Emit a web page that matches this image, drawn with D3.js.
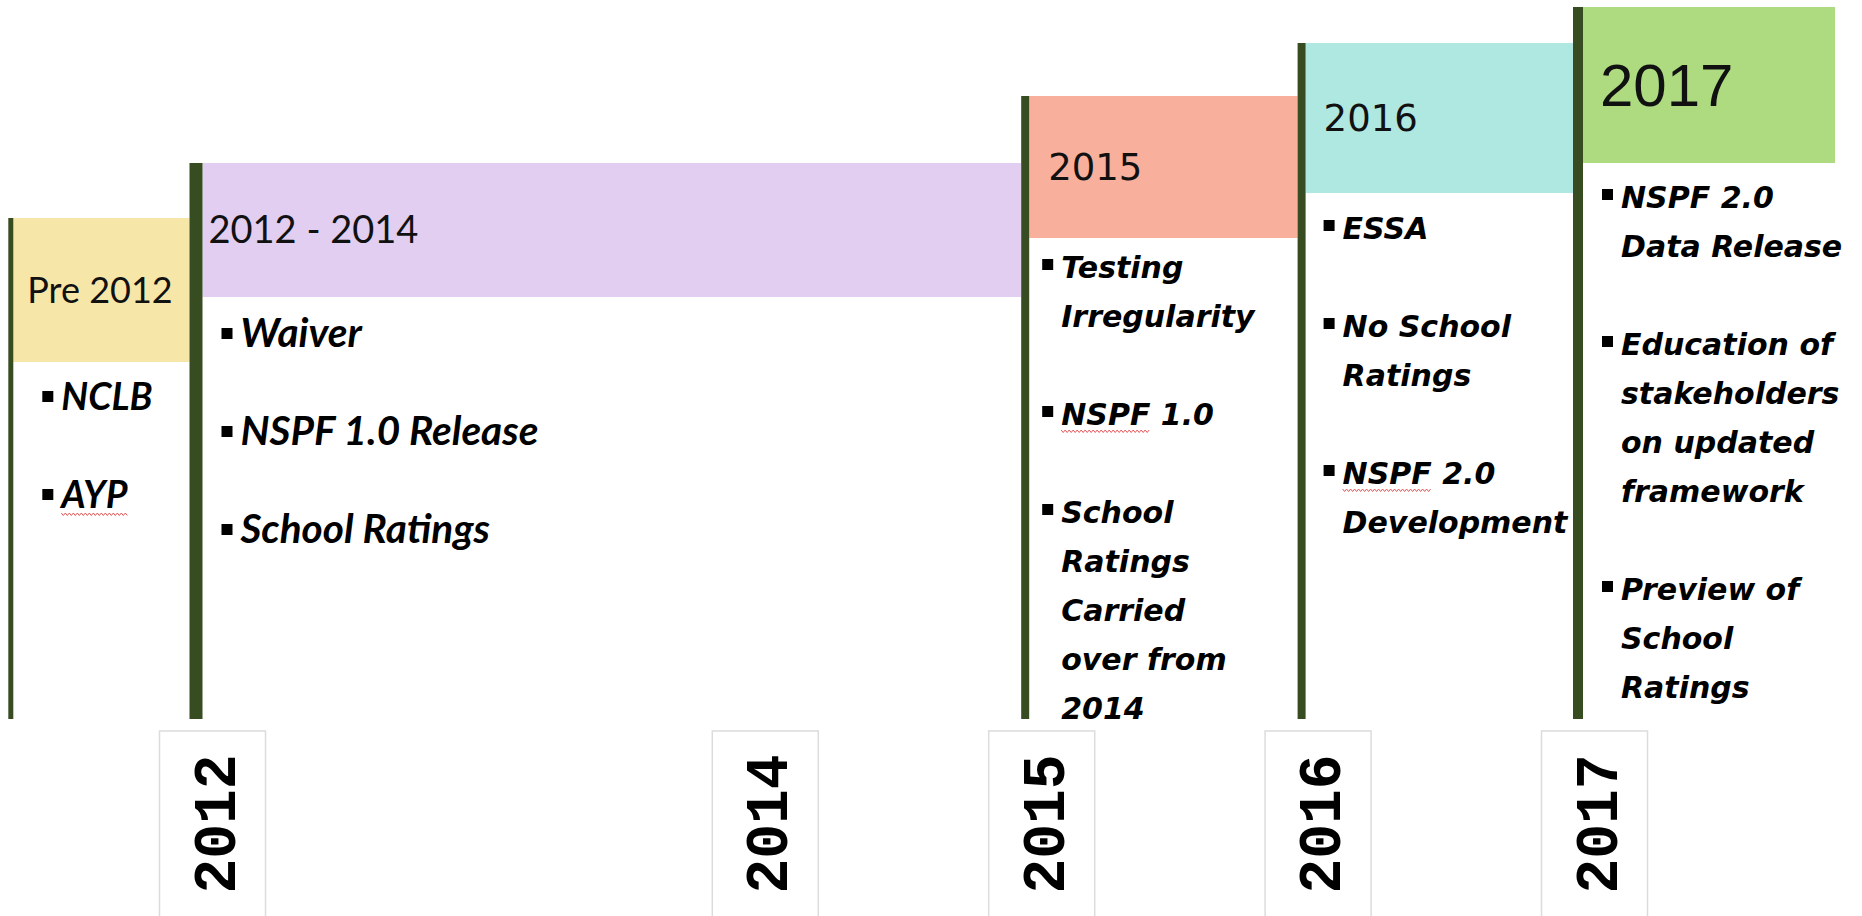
<!DOCTYPE html>
<html>
<head>
<meta charset="utf-8">
<script src="https://cdn.jsdelivr.net/npm/d3@7"></script>
<style>
  body { margin: 0; background: #fff; }
  svg { display: block; }
</style>
</head>
<body>
<div id="chart"></div>
<script>
// periods on the timeline
const periodLabels = ["Pre 2012", "2012 - 2014", "2015", "2016", "2017"];
const periodStart = [2011.33, 2012, 2015, 2016, 2017];
const periodEnd = [2012, 2015, 2016, 2017, 2017.93];

// bullet points of each period ("\n" = line break)
const periodItems = [
  ["NCLB", "AYP"],
  ["Waiver", "NSPF 1.0 Release", "School Ratings"],
  ["Testing\nIrregularity", "NSPF 1.0", "School\nRatings\nCarried\nover from\n2014"],
  ["ESSA", "No School\nRatings", "NSPF 2.0\nDevelopment"],
  ["NSPF 2.0\nData Release", "Education of\nstakeholders\non updated\nframework", "Preview of\nSchool\nRatings"]
];

// words underlined by the spell checker: [period, item]
const squiggles = [[0, 1], [2, 1], [3, 2]];

// year ticks under the timeline
const tickYears = [2012, 2014, 2015, 2016, 2017];

// layout / styling per period
const colors = ["#f6e6a8", "#e2cef0", "#f8af9c", "#afe8e0", "#aedb7f"];
const boxTop = [218, 163, 96, 43, 7];
const boxBottom = [362, 297, 238, 193, 163];
const lineWidth = [5, 13, 8, 8, 10];
const firstLine = [48, 50, 40, 46, 45];
const bulletPad = [29, 19, 13, 18, 19];
const titlePad = [14, 6, 19, 18, 17];
const titleFont = [
  {family: "Lato", size: 36},
  {family: "Lato", size: 38},
  {family: "DejaVu Sans", size: 37},
  {family: "DejaVu Sans", size: 37},
  {family: "Liberation Sans", size: 60}
];
const itemFont = [
  {family: "Lato", size: 37.5},
  {family: "Lato", size: 40.5},
  {family: "DejaVu Sans", size: 30},
  {family: "DejaVu Sans", size: 30},
  {family: "DejaVu Sans", size: 30}
];
const lineColor = "#374c21";
const lineBottom = 719;
const lineH = 49;
const offset = 16; // period lines sit left of the year boxes

const width = 1862, height = 916;

const svg = d3.select("#chart")
  .append("svg")
  .attr("width", width)
  .attr("height", height);

const x = d3.scaleLinear()
  .domain([2012, 2017])
  .range([212, 1594]);

const periods = periodLabels.map((label, i) => ({
  i, label,
  start: periodStart[i],
  end: periodEnd[i],
  items: periodItems[i]
}));

const lineX = d => x(d.start) - offset;

// coloured header boxes
svg.selectAll("rect.head")
  .data(periods)
  .join("rect")
  .attr("class", "head")
  .attr("x", d => lineX(d) + lineWidth[d.i] / 2)
  .attr("y", d => boxTop[d.i])
  .attr("width", d => {
    const next = d.i + 1 < periods.length ? lineWidth[d.i + 1] / 2 : 0;
    return x(d.end) - offset - next - (lineX(d) + lineWidth[d.i] / 2);
  })
  .attr("height", d => boxBottom[d.i] - boxTop[d.i])
  .attr("fill", d => colors[d.i]);

// vertical period lines
svg.selectAll("line.period")
  .data(periods)
  .join("line")
  .attr("class", "period")
  .attr("x1", lineX)
  .attr("x2", lineX)
  .attr("y1", d => boxTop[d.i])
  .attr("y2", lineBottom)
  .attr("stroke", lineColor)
  .attr("stroke-width", d => lineWidth[d.i]);

// header titles
svg.selectAll("text.title")
  .data(periods)
  .join("text")
  .attr("class", "title")
  .attr("x", d => lineX(d) + lineWidth[d.i] / 2 + titlePad[d.i])
  .attr("y", d => (boxTop[d.i] + boxBottom[d.i]) / 2)
  .attr("dy", "0.35em")
  .style("font-family", d => titleFont[d.i].family)
  .style("font-size", d => titleFont[d.i].size + "px")
  .attr("fill", "#111")
  .text(d => d.label);

// bullet items
periods.forEach(p => {
  const left = lineX(p) + lineWidth[p.i] / 2 + bulletPad[p.i];
  let base = boxBottom[p.i] + firstLine[p.i];
  p.items.forEach((item, k) => {
    const lines = item.split("\n");
    const g = svg.append("g");
    g.append("rect")
      .attr("x", left)
      .attr("y", base - 19)
      .attr("width", 11)
      .attr("height", 11)
      .attr("fill", "#000");
    const t = g.append("text")
      .style("font-family", itemFont[p.i].family)
      .style("font-size", itemFont[p.i].size + "px")
      .style("font-weight", "bold")
      .style("font-style", "italic")
      .attr("fill", "#000");
    lines.forEach((ln, j) => {
      t.append("tspan")
        .attr("x", left + 19)
        .attr("y", base + j * lineH)
        .text(ln);
    });
    if (squiggles.some(s => s[0] === p.i && s[1] === k)) {
      const word = lines[0].split(" ")[0];
      const w = t.select("tspan").node().getSubStringLength(0, word.length);
      const pts = d3.range(0, Math.floor(w / 2) + 1).map(n => [left + 19 + n * 2, base + 6 + (n % 2 ? 1.5 : -1)]);
      g.append("path")
        .attr("d", d3.line()(pts))
        .attr("fill", "none")
        .attr("stroke", "#e8575a")
        .attr("stroke-width", 1);
    }
    base += (lines.length + 1) * lineH;
  });
});

// year boxes along the bottom
const axis = d3.axisBottom(x)
  .tickValues(tickYears)
  .tickFormat(d3.format("d"))
  .tickSize(0);

const ax = svg.append("g")
  .attr("transform", "translate(0,731)")
  .call(axis);

ax.select(".domain").remove();

ax.selectAll(".tick")
  .insert("rect", "text")
  .attr("x", -53)
  .attr("y", 0)
  .attr("width", 106)
  .attr("height", 200)
  .attr("fill", "#fff")
  .attr("stroke", "#dcdcdc")
  .attr("stroke-width", 1.5);

ax.selectAll(".tick text")
  .attr("x", 0)
  .attr("y", 0)
  .attr("dy", "0.36em")
  .attr("transform", "translate(0,93) rotate(-90) scale(1,1.06)")
  .attr("text-anchor", "middle")
  .attr("fill", "#000")
  .style("font-family", "Liberation Mono")
  .style("font-weight", "bold")
  .style("font-size", "58px");
</script>
</body>
</html>
